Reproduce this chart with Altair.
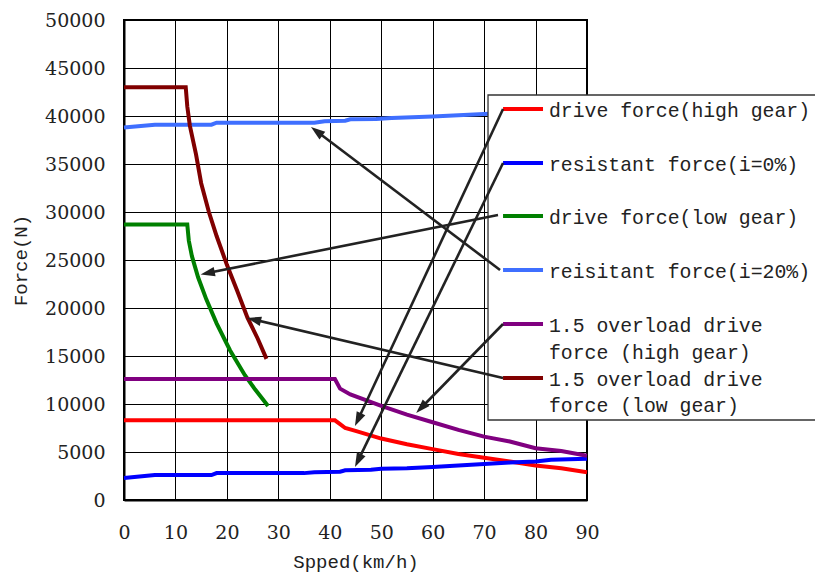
import math
import altair as alt
import pandas as pd

W, H = 463, 480
X_MAX, Y_MAX = 90, 50000

# ---------------- series data ----------------
names = [
    "drive force(high gear)",
    "resistant force(i=0%)",
    "drive force(low gear)",
    "reisitant force(i=20%)",
    "1.5 overload drive force (high gear)",
    "1.5 overload drive force (low gear)",
]
colors = ["#FF0000", "#0000FF", "#008000", "#3F6FFF", "#800080", "#800000"]

red_x = [0, 41, 42, 43, 45, 50, 55, 60, 65, 70, 75, 80, 85, 90]
red_y = [8300, 8300, 7900, 7500, 7200, 6400, 5800, 5300, 4800, 4400, 4000, 3600, 3300, 2900]

blue_x = [0, 6, 17, 18, 35, 37, 42, 43, 48, 50, 55, 60, 65, 70, 75, 80, 83, 90]
blue_y = [2300, 2600, 2600, 2800, 2800, 2900, 2950, 3100, 3150, 3250, 3300, 3450, 3600, 3750, 3900, 4000, 4200, 4300]

green_x = [0, 12.3, 12.6, 13.2, 14.4, 16, 18, 20.6, 23.5, 25.5, 28]
green_y = [28700, 28700, 27000, 25400, 23200, 20900, 18400, 15600, 13000, 11500, 9800]

lblue_x = [0, 6, 17, 18, 37, 39, 43, 44, 49, 52, 60, 70, 80, 90]
lblue_y = [38800, 39100, 39100, 39300, 39300, 39450, 39500, 39650, 39700, 39800, 39950, 40200, 40500, 40800]

purple_x = [0, 41, 42, 44, 50, 55, 60, 65, 70, 75, 80, 85, 90]
purple_y = [12600, 12600, 11600, 11000, 9800, 8900, 8100, 7300, 6600, 6100, 5400, 5100, 4600]

dred_x = [0, 12, 12.3, 12.8, 14, 15, 16.5, 18, 20, 22, 24, 26, 27.7]
dred_y = [43000, 43000, 41000, 39000, 36000, 33000, 30000, 27500, 24500, 21800, 19000, 16800, 14700]

series_x = [red_x, blue_x, green_x, lblue_x, purple_x, dred_x]
series_y = [red_y, blue_y, green_y, lblue_y, purple_y, dred_y]

rows = []
for n, xs, ys in zip(names, series_x, series_y):
    for i, (x, y) in enumerate(zip(xs, ys)):
        rows.append({"series": n, "x": x, "y": y, "order": i})
df = pd.DataFrame(rows)

# ---------------- annotation (legend + arrows) in data units ----------------
leg_box = {"x": 70.76, "x2": 150, "y": 8333, "y2": 42187}
leg_sample_x = [73.68, 81.45]
leg_sample_y = [40729, 35104, 29583, 23958, 18333, 12708]
leg_text_x = 82.6
leg_text = ["drive force(high gear)", "resistant force(i=0%)", "drive force(low gear)",
            "reisitant force(i=20%)", "1.5 overload drive", "force (high gear)",
            "1.5 overload drive", "force (low gear)"]
leg_text_y = [40520, 34900, 29380, 23750, 18130, 15310, 12500, 9790]

arrow_start_x = [73.68, 73.68, 72.7, 73.1, 73.68, 73.68]
arrow_start_y = [40729, 35104, 29688, 23958, 18333, 12708]
arrow_tip_x = [44.9, 44.9, 14.9, 36.35, 56.8, 23.9]
arrow_tip_y = [7700, 3450, 23500, 38854, 9063, 18958]

sx = W / X_MAX
sy = H / Y_MAX
arows = []
for xs_, ys_, xt, yt in zip(arrow_start_x, arrow_start_y, arrow_tip_x, arrow_tip_y):
    dx = (xt - xs_) * sx
    dys = -(yt - ys_) * sy  # screen down
    ln = math.hypot(dx, dys)
    ux, uy = dx / ln, dys / ln
    back = 7
    arows.append({
        "x": xs_, "y": ys_,
        "x2": xt - back * ux / sx, "y2": yt + back * uy / sy,
        "tx": xt, "ty": yt,
        "angle": math.degrees(math.atan2(dx, -dys)) % 360,
    })
adf = pd.DataFrame(arows)

xscale = alt.Scale(domain=[0, X_MAX], nice=False)
yscale = alt.Scale(domain=[0, Y_MAX], nice=False)

axis_style = dict(
    grid=True, ticks=False, domainColor="black", domainWidth=2,
    gridColor="black", gridWidth=1, gridOpacity=1,
    labelFont="DejaVu Serif", labelFontSize=19, labelColor="#222222",
    titleFont="Liberation Mono", titleFontSize=19, titleColor="#222222",
    titleFontWeight="normal",
)

lines = alt.Chart(df).mark_line(strokeWidth=4, clip=False).encode(
    x=alt.X("x:Q", scale=xscale, title="Spped(km/h)",
            axis=alt.Axis(values=list(range(0, 91, 10)), labelPadding=23, titlePadding=10,
                          labelFlush=False, **axis_style)),
    y=alt.Y("y:Q", scale=yscale, title="Force(N)",
            axis=alt.Axis(values=list(range(0, 50001, 5000)), labelPadding=19, titlePadding=14,
                          format="d", labelFlush=False, **axis_style)),
    color=alt.Color("series:N", scale=alt.Scale(domain=names, range=colors), legend=None),
    order="order:Q",
)

box = alt.Chart(pd.DataFrame([leg_box])).mark_rect(
    fill="white", stroke="#333333", strokeWidth=1.3, clip=False
).encode(x="x:Q", x2="x2:Q", y="y:Q", y2="y2:Q")

samp_rows = []
for n, yv in zip(names, leg_sample_y):
    samp_rows.append({"series": n, "x": leg_sample_x[0], "x2": leg_sample_x[1], "y": yv})
samples = alt.Chart(pd.DataFrame(samp_rows)).mark_rule(strokeWidth=4, clip=False).encode(
    x="x:Q", x2="x2:Q", y="y:Q",
    color=alt.Color("series:N", scale=alt.Scale(domain=names, range=colors), legend=None),
)

texts = alt.Chart(pd.DataFrame({"t": leg_text, "y": leg_text_y, "x": [leg_text_x] * len(leg_text)})).mark_text(
    align="left", baseline="middle", font="Liberation Mono", fontSize=19.8, color="#222222", clip=False
).encode(x="x:Q", y="y:Q", text="t:N")

arrow_lines = alt.Chart(adf).mark_rule(strokeWidth=2.6, color="#222222", clip=False).encode(
    x="x:Q", y="y:Q", x2="x2:Q", y2="y2:Q"
)
heads = alt.Chart(adf).mark_point(
    shape="M0,0 L0.5,1.5 L-0.5,1.5 Z", size=361, filled=True, opacity=1,
    color="#222222", strokeWidth=0, clip=False
).encode(x="tx:Q", y="ty:Q", angle=alt.Angle("angle:Q", scale=None))

chart = alt.layer(lines, box, samples, texts, arrow_lines, heads).properties(
    width=W, height=H,
    background="white",
    autosize=alt.AutoSizeParams(type="none"),
    padding={"left": 116, "top": 12, "right": 228, "bottom": 73},
).configure_view(stroke="black", strokeWidth=2)

chart.save("out.html", embed_options={"renderer": "svg", "actions": False})
